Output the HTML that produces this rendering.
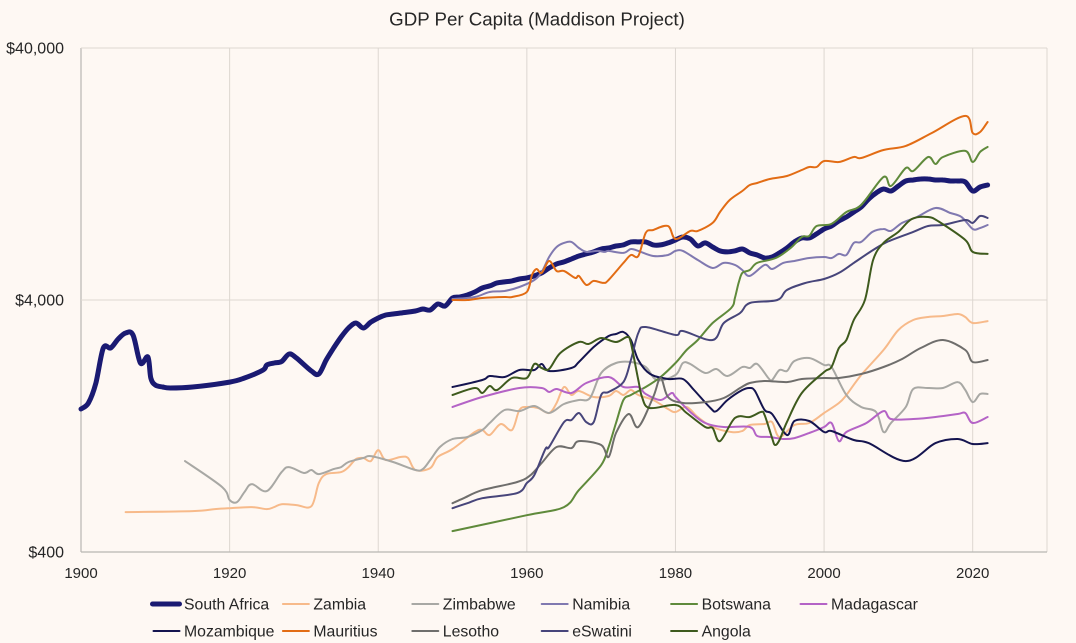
<!DOCTYPE html>
<html lang="en">
<head>
<meta charset="utf-8">
<title>GDP Per Capita (Maddison Project)</title>
<style>
html,body{margin:0;padding:0;background:#fef8f3;}
body{width:1076px;height:643px;overflow:hidden;}
svg{display:block;font-family:"Liberation Sans",sans-serif;fill:#262626;}
</style>
</head>
<body>
<svg id="chart" width="1076" height="643" viewBox="0 0 1076 643" xmlns="http://www.w3.org/2000/svg">
<rect x="0" y="0" width="1076" height="643" fill="#fef8f3"/>
<text x="537" y="25.5" text-anchor="middle" font-size="18.7">GDP Per Capita (Maddison Project)</text>
<g id="grid"></g>
<g id="series"></g>
<g id="ticks"></g>
<g id="legend"></g>
</svg>
<script>
const xTickValues = [1900, 1920, 1940, 1960, 1980, 2000, 2020];
const yTickValues = [400, 4000, 40000];
const yTickLabels = ['$400', '$4,000', '$40,000'];

const southAfricaYears = [1900,1901,1902,1903,1904,1905,1906,1907,1908,1909,1909.4,1910,1911,1912,1915,1920,1922,1924.5,1925,1926,1927,1928,1929,1931,1932,1933,1934,1935,1936,1937,1938,1939,1940,1941,1942,1943,1945,1946,1947,1948,1949,1950,1951,1952,1953,1954,1955,1956,1957,1958,1959,1960,1961,1962,1963,1964,1965,1966,1967,1968,1969,1970,1971,1972,1973,1974,1975,1976,1977,1978,1979,1980,1981,1982,1983,1984,1985,1986,1987,1988,1989,1990,1991,1992,1993,1994,1995,1996,1997,1998,1999,2000,2001,2002,2003,2004,2005,2006,2007,2008,2009,2010,2011,2012,2013,2014,2015,2016,2017,2018,2019,2020,2021,2022];
const southAfricaValues = [1477,1561,1873,2579,2579,2800,2958,2905,2249,2376,1961,1840,1806,1790,1806,1890,1961,2110,2209,2249,2280,2442,2354,2091,2034,2311,2579,2852,3096,3241,3096,3270,3392,3487,3519,3551,3616,3683,3650,3856,3786,4074,4112,4188,4305,4465,4548,4675,4718,4761,4848,4893,4984,5123,5360,5561,5664,5820,5982,6093,6206,6376,6435,6554,6615,6800,6800,6800,6615,6615,6737,6923,7116,6987,6554,6737,6494,6262,6206,6262,6376,6149,6037,5873,5927,6149,6435,6800,7051,7051,7315,7655,7868,8237,8542,8942,9359,10070,10638,11033,10834,11340,11870,11978,12088,12088,11978,11978,11870,11870,11762,10834,11236,11444];

const zambiaYears = [1906,1915,1918,1920,1923,1925,1926,1927,1929,1931,1932,1933,1935,1936,1937,1938,1939,1940,1941,1943,1944,1945,1947,1948,1950,1953,1954,1955,1956.5,1958,1959,1960,1961.5,1963,1964,1965,1966,1967,1969,1971,1972,1973,1974,1975,1977,1979,1980,1981.5,1983,1985,1987.5,1989,1990,1992,1993,1994,1996,1998,2000,2002,2003,2005,2008,2010,2012,2014,2016,2018,2019,2020,2022];
const zambiaValues = [576,581,592,597,603,592,603,619,614,608,751,815,830,869,935,944,918,1015,927,953,944,846,861,953,1025,1197,1219,1165,1288,1219,1464,1505,1491,1424,1561,1806,1679,1741,1648,1664,1741,1679,1757,1679,1604,1477,1437,1505,1373,1253,1197,1208,1277,1288,1311,1144,1277,1300,1424,1561,1679,2016,2532,3040,3331,3424,3455,3519,3424,3241,3300];

const zimbabweYears = [1914,1919,1920,1921,1922,1923,1925,1927,1928,1930,1931,1932,1934,1935,1936,1938,1939,1942,1945,1946,1947,1948.3,1950,1952,1954,1955,1957,1959,1961,1963,1965,1967,1968.5,1970,1972,1974,1976,1977.5,1980,1981,1982,1984,1985.5,1987,1989,1990,1991,1992.5,1993,1994,1995,1996,1998,2000,2001,2003,2005,2007,2008,2009,2011,2012,2014,2016,2018,2019,2020,2021,2022];
const zimbabweValues = [918,724,643,631,692,744,698,830,869,823,846,815,853,869,910,944,961,910,846,853,927,1044,1123,1144,1219,1300,1464,1450,1518,1424,1547,1604,1633,2053,2249,2269,2168,1925,2016,2249,2229,2053,2129,1997,2168,2149,2229,1961,1925,2110,2091,2290,2354,2209,2168,1679,1505,1437,1197,1300,1505,1773,1790,1790,1890,1757,1574,1694,1694];

const namibiaYears = [1950,1953,1955,1957,1959,1961,1962,1963,1964,1965,1966,1967,1968,1969.5,1970.5,1971,1973,1974,1975,1977,1979,1980,1981,1983,1985,1986.5,1988,1989,1990,1992,1993,1994.5,1996,1998,2000,2001,2002,2003,2004,2005,2006.5,2008,2009,2010.5,2012.5,2015,2017,2018.5,2020,2021,2022];
const namibiaValues = [4037,4112,4305,4344,4506,4803,5170,5927,6494,6737,6800,6435,6206,6262,6206,6262,6149,6376,6262,5982,6037,6262,6262,5766,5360,5612,5510,5262,4984,5510,5311,5612,5715,5873,5927,5873,6093,6037,6737,6800,7450,7655,7518,8088,8542,9274,8861,8542,7655,7725,7941];

const botswanaYears = [1950,1960,1965,1967,1970,1971,1972,1973,1974,1976,1978,1980,1981.5,1983,1985,1987.5,1988,1988.5,1989,1990,1991,1993.5,1995.5,1997,1998,1999,2001,2003,2005,2008,2009,2011,2012,2014,2015,2016,2019,2020,2021,2022];
const botswanaValues = [484,560,603,704,885,1044,1300,1604,1679,1806,1979,2249,2532,2775,3241,3717,4074,4675,5123,5262,5612,5873,6435,7116,7182,7868,8014,8942,9532,12311,11340,13367,13005,14781,13865,14781,15615,14120,15473,16200];

const madagascarYears = [1950,1954,1959,1962,1963,1964,1966,1968,1971,1973,1975,1976,1978,1979.5,1980,1982,1984,1986.5,1990,1991,1992.7,1994.5,1996,1998,2000,2001,2002,2003,2005.7,2008,2009,2012,2015,2018,2019,2020,2022];
const madagascarValues = [1505,1648,1790,1790,1725,1773,1710,1873,1979,1806,1806,1694,1604,1710,1648,1437,1300,1253,1253,1154,1144,1123,1133,1186,1253,1300,1102,1197,1300,1450,1348,1348,1373,1411,1424,1300,1373];

const mozambiqueYears = [1950,1954,1955,1957,1959,1961,1962,1963,1966,1967,1969,1971,1972,1973,1974,1975,1976.6,1979,1981,1982.5,1984.7,1985.5,1987,1989,1990,1990.7,1992,1993,1995,1996,1998,2000,2001,2004,2006,2011,2015,2018,2020,2022];
const mozambiqueValues = [1806,1925,1997,1979,2110,2110,2229,2091,2149,2269,2603,2878,2932,2985,2775,2311,2034,1943,1943,1757,1491,1450,1604,1757,1790,1741,1464,1411,1165,1324,1324,1197,1208,1113,1082,918,1082,1123,1073,1082];

const mauritiusYears = [1950,1952,1954,1957,1958,1960,1960.7,1961.3,1962,1963,1964,1965,1966.5,1967,1968,1969,1970.3,1971,1973,1974,1975,1976,1977,1979,1980,1982,1983,1985,1986,1987.3,1989,1990,1991,1992.7,1995,1997,1998,1999,2000,2002,2004,2005,2008,2011,2014.5,2019,2020,2021,2022];
const mauritiusValues = [4000,4000,4074,4112,4112,4305,5030,5311,5123,5715,5216,5216,4893,4984,4590,4761,4675,4803,5612,6037,5982,7382,7585,7868,6987,7518,7518,8088,8942,9978,10834,11444,11655,12088,12424,13125,13490,13490,14250,14120,14781,14646,15757,16350,18400,21500,18400,18570,20350];

const lesothoYears = [1950,1951.5,1954,1958.7,1960.5,1962,1964,1966,1967,1970,1971,1972,1973.7,1975,1977,1978,1979,1981,1984,1986.5,1988.7,1990,1992,1995,1997,2000,2002,2005,2008,2010.5,2013,2016,2019,2020,2022];
const lesothoValues = [625,654,704,758,808,902,1044,1034,1102,1063,953,1186,1411,1253,1648,1961,1648,1561,1574,1633,1790,1873,1908,1890,1943,1961,1961,2034,2168,2333,2579,2775,2532,2269,2311];

const eswatiniYears = [1950,1952,1954,1958.7,1960,1961,1962.5,1963,1965,1966,1967,1968,1969,1970,1971,1973,1974,1975,1976,1980,1981,1985,1986.5,1988.7,1990,1993.7,1995,1997.5,2000,2002,2004,2006.6,2008.5,2012,2014,2016,2019,2020,2021,2022];
const eswatiniValues = [597,625,654,685,751,808,1025,1044,1311,1336,1424,1311,1311,1679,1725,1890,2311,2958,3125,2905,3012,2775,3241,3551,3891,4000,4383,4675,4848,5123,5612,6318,6800,7450,7868,7941,8311,8088,8620,8464];

const angolaYears = [1950,1953,1954,1955,1956,1958,1960,1961,1962,1963,1964.5,1967,1968.3,1970,1972,1973.5,1974,1975,1975.5,1976.5,1980,1981.5,1984,1985,1986,1988,1990,1991.5,1992,1993,1993.4,1994,1995,1997,2000,2001,2002,2003,2004,2005.5,2006.6,2008,2010,2011.8,2014,2015.5,2019,2020,2022];
const angolaValues = [1679,1790,1710,1823,1757,1961,1961,2229,2149,2129,2464,2724,2675,2826,2724,2852,2700,1925,1648,1491,1533,1424,1253,1242,1102,1361,1373,1437,1399,1133,1063,1113,1311,1710,2071,2168,2579,2775,3331,4000,5766,6737,7450,8387,8542,8162,6923,6206,6093];

const seriesNames = ['South Africa','Zambia','Zimbabwe','Namibia','Botswana','Madagascar','Mozambique','Mauritius','Lesotho','eSwatini','Angola'];
const seriesYears = [southAfricaYears,zambiaYears,zimbabweYears,namibiaYears,botswanaYears,madagascarYears,mozambiqueYears,mauritiusYears,lesothoYears,eswatiniYears,angolaYears];
const seriesValues = [southAfricaValues,zambiaValues,zimbabweValues,namibiaValues,botswanaValues,madagascarValues,mozambiqueValues,mauritiusValues,lesothoValues,eswatiniValues,angolaValues];
const seriesColors = ['#1a1a72','#f7ba8a','#a8a8a4','#8079b0','#5f8a3b','#b463c6','#14144f','#e26c14','#6f6e6c','#47457a','#3e5a1d'];

const NS = 'http://www.w3.org/2000/svg';
const plotLeft = 81, plotRight = 1047, plotTop = 48, plotBottom = 552;
const xMin = 1900, xMax = 2030, yMinLog = Math.log10(400), yMaxLog = Math.log10(40000);
function xScale(year){ return plotLeft + (year - xMin) * (plotRight - plotLeft) / (xMax - xMin); }
function yScale(value){ return plotBottom - (Math.log10(value) - yMinLog) * (plotBottom - plotTop) / (yMaxLog - yMinLog); }
function smoothPath(pts){
  let d = 'M' + pts[0][0].toFixed(1) + ' ' + pts[0][1].toFixed(1);
  for (let i = 0; i < pts.length - 1; i++) {
    const p0 = pts[Math.max(i - 1, 0)], p1 = pts[i], p2 = pts[i + 1], p3 = pts[Math.min(i + 2, pts.length - 1)];
    const c1x = p1[0] + (p2[0] - p0[0]) / 6, c1y = p1[1] + (p2[1] - p0[1]) / 6;
    const c2x = p2[0] - (p3[0] - p1[0]) / 6, c2y = p2[1] - (p3[1] - p1[1]) / 6;
    d += 'C' + c1x.toFixed(1) + ' ' + c1y.toFixed(1) + ' ' + c2x.toFixed(1) + ' ' + c2y.toFixed(1) + ' ' + p2[0].toFixed(1) + ' ' + p2[1].toFixed(1);
  }
  return d;
}
function slug(s){ return s.toLowerCase().replace(/\s+/g, '-'); }

const gridG = document.getElementById('grid');
xTickValues.concat([xMax]).forEach(function(t){
  const l = document.createElementNS(NS, 'line');
  
  
  l.setAttribute('x1', xScale(t)); l.setAttribute('x2', xScale(t));
  l.setAttribute('y1', plotTop); l.setAttribute('y2', plotBottom);
  l.setAttribute('stroke', t === xMin ? '#b9b6b2' : '#ddd7d1');
  l.setAttribute('stroke-width', t === xMin ? '1.2' : '1');
  gridG.appendChild(l);
});
yTickValues.forEach(function(v){
  const l = document.createElementNS(NS, 'line');
  
  
  l.setAttribute('x1', plotLeft); l.setAttribute('x2', plotRight);
  l.setAttribute('y1', yScale(v)); l.setAttribute('y2', yScale(v));
  l.setAttribute('stroke', v === 400 ? '#b9b6b2' : '#ddd7d1');
  l.setAttribute('stroke-width', v === 400 ? '1.2' : '1');
  gridG.appendChild(l);
});

const tickG = document.getElementById('ticks');
xTickValues.forEach(function(t){
  const el = document.createElementNS(NS, 'text');
  
  
  el.setAttribute('x', xScale(t)); el.setAttribute('y', 578);
  el.setAttribute('text-anchor', 'middle'); el.setAttribute('font-size', '15');
  el.textContent = String(t);
  tickG.appendChild(el);
});
yTickValues.forEach(function(v, i){
  const el = document.createElementNS(NS, 'text');
  
  
  el.setAttribute('x', 64); el.setAttribute('y', yScale(v) + 5.5);
  el.setAttribute('text-anchor', 'end'); el.setAttribute('font-size', '16');
  el.textContent = yTickLabels[i];
  tickG.appendChild(el);
});

const seriesG = document.getElementById('series');
seriesNames.forEach(function(name, i){
  const pts = seriesYears[i].map(function(yr, j){ return [xScale(yr), yScale(seriesValues[i][j])]; });
  const p = document.createElementNS(NS, 'path');
  
  
  p.setAttribute('d', smoothPath(pts));
  p.setAttribute('fill', 'none');
  p.setAttribute('stroke', seriesColors[i]);
  p.setAttribute('stroke-width', i === 0 ? '5' : '2');
  p.setAttribute('stroke-linejoin', 'round');
  p.setAttribute('stroke-linecap', 'round');
  seriesG.appendChild(p);
});

const legendG = document.getElementById('legend');
seriesNames.forEach(function(name, i){
  const col = i % 6, row = Math.floor(i / 6);
  const lx = 153.5 + col * 129.4, ly = 604 + row * 27;
  const g = document.createElementNS(NS, 'g');
  
  
  const l = document.createElementNS(NS, 'line');
  
  
  l.setAttribute('x1', i === 0 ? lx - 1 : lx); l.setAttribute('x2', lx + 26);
  l.setAttribute('y1', ly); l.setAttribute('y2', ly);
  l.setAttribute('stroke', seriesColors[i]);
  l.setAttribute('stroke-width', i === 0 ? '5' : '2');
  l.setAttribute('stroke-linecap', 'round');
  g.appendChild(l);
  const t = document.createElementNS(NS, 'text');
  
  
  t.setAttribute('x', lx + 30.5); t.setAttribute('y', ly + 5.5);
  t.setAttribute('font-size', '15.8');
  t.textContent = name;
  g.appendChild(t);
  legendG.appendChild(g);
});
</script>
</body>
</html>
